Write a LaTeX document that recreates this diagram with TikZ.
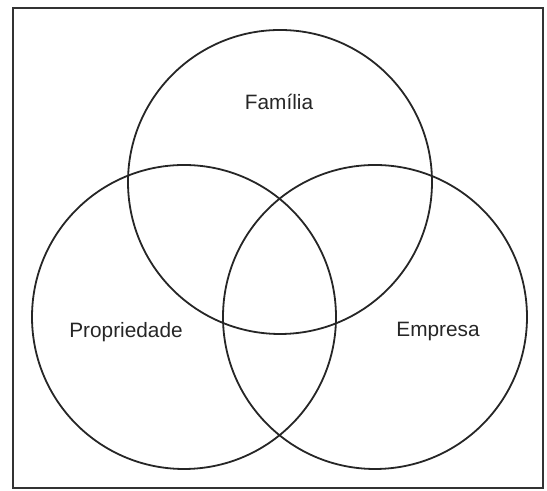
\documentclass[tikz,border=0pt]{standalone}
\usepackage{fontspec}
\setmainfont{Liberation Sans}
\usepackage{tikz}
\usetikzlibrary{calc}

\tikzset{
    setcircle/.style={line width=0.9pt, draw=black!85},
    setlabel/.style={font=\fontsize{10.4}{12}\selectfont, text=black!85}
}

\begin{document}
\begin{tikzpicture}[x=0.5pt, y=0.5pt]
    \useasboundingbox (0,0) rectangle (547,491);

    % Frame
    \draw[line width=0.9pt, black!80] (13,3) rectangle (543,483);

    % Circle centres
    \coordinate (F) at (280, 309);
    \coordinate (P) at (184, 174);
    \coordinate (E) at (375, 174);
    \def\rad{152}

    % The three sets
    \draw[setcircle] (F) circle (\rad);
    \draw[setcircle] (P) circle (\rad);
    \draw[setcircle] (E) circle (\rad);

    % Labels
    \node[setlabel] (familia) at (279, 389) {Família};
    \node[setlabel] (propriedade) at (126, 159) {Propriedade};
    \node[setlabel] (empresa) at (438, 159) {Empresa};

\end{tikzpicture}
\end{document}
